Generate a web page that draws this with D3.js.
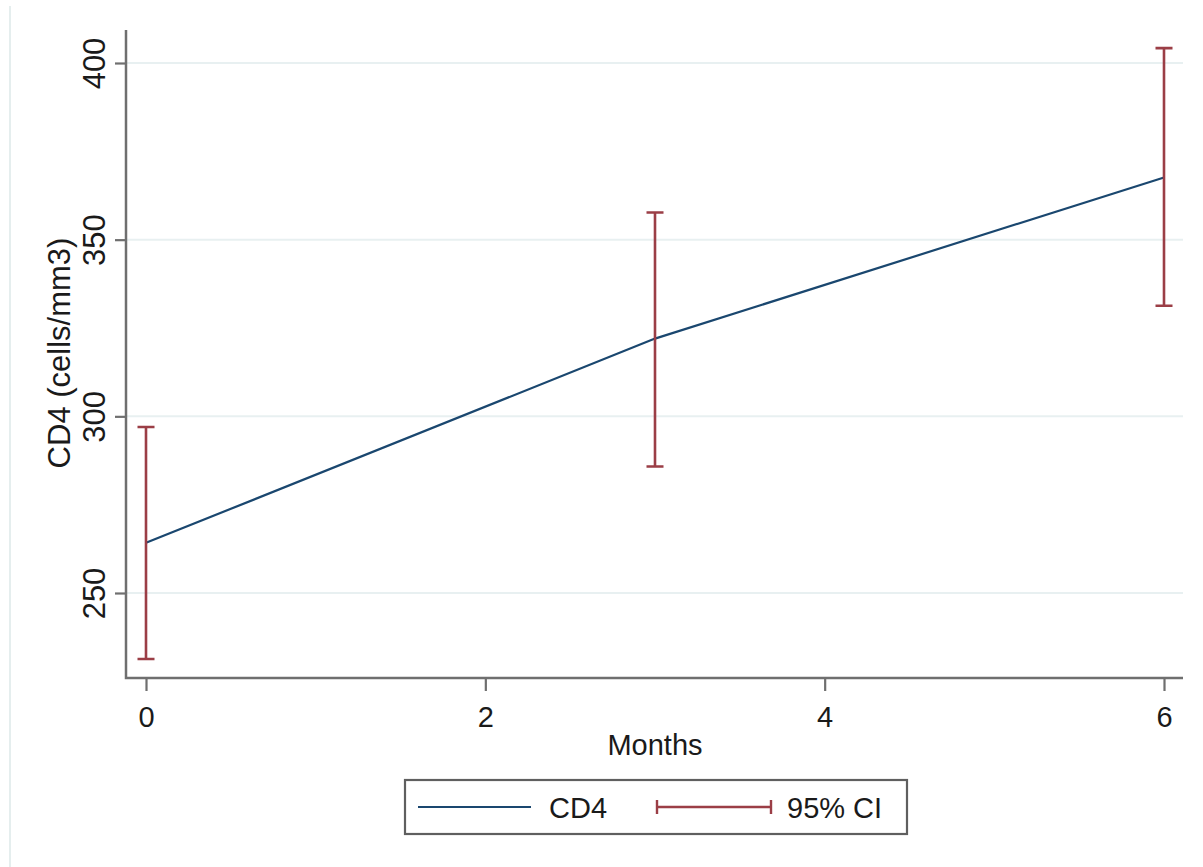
<!DOCTYPE html>
<html>
<head>
<meta charset="utf-8">
<script src="https://cdn.jsdelivr.net/npm/d3@7"></script>
<style>
  html, body { margin: 0; padding: 0; background: #ffffff; }
  svg { display: block; }
  text { font-family: "Liberation Sans", Arial, Helvetica, sans-serif; fill: #1a1a1a; }
</style>
</head>
<body>
<svg id="chart" width="1203" height="867"></svg>
<script>
// Mean CD4 count over follow-up with 95% confidence intervals
const months   = [0, 3, 6];
const cd4Mean  = [264.2, 322.0, 367.6];
const ciLower  = [231.3, 285.8, 331.3];
const ciUpper  = [297.0, 357.7, 404.2];
const xTickValues = [0, 2, 4, 6];
const yTickValues = [250, 300, 350, 400];

const svg = d3.select("#chart");

// plot region (frame of the axes)
const frame = { left: 126, right: 1183, top: 30, bottom: 678 };

const x = d3.scaleLinear().domain([0, 6]).range([146, 1164]);
const y = d3.scaleLinear().domain([250, 400]).range([593, 63]);

const blue = "#1a476f";
const maroon = "#9b3e46";
const axisGray = "#6f6f6f";

// faint outer graph border
svg.append("line")
  .attr("x1", 10).attr("x2", 10).attr("y1", 6).attr("y2", 867)
  .attr("stroke", "#e5eeee").attr("stroke-width", 2);

// horizontal grid lines
svg.append("g").selectAll("line")
  .data(yTickValues)
  .join("line")
  .attr("x1", frame.left).attr("x2", frame.right)
  .attr("y1", d => y(d)).attr("y2", d => y(d))
  .attr("stroke", "#e8f0f1").attr("stroke-width", 2);

// y axis
const yAxis = svg.append("g")
  .attr("transform", `translate(${frame.left},0)`)
  .call(d3.axisLeft(y).tickValues(yTickValues).tickSize(11).tickPadding(0).tickFormat(d3.format("d")));
yAxis.select(".domain").remove();
yAxis.selectAll(".tick line").attr("stroke", axisGray).attr("stroke-width", 2.2);
yAxis.selectAll(".tick text")
  .attr("x", null).attr("dy", null)
  .attr("transform", "translate(-21,0) rotate(-90)")
  .attr("text-anchor", "middle")
  .attr("font-size", 31)
  .style("fill", "#1a1a1a");

// x axis
const xAxis = svg.append("g")
  .attr("transform", `translate(0,${frame.bottom})`)
  .call(d3.axisBottom(x).tickValues(xTickValues).tickSize(13).tickPadding(0).tickFormat(d3.format("d")));
xAxis.select(".domain").remove();
xAxis.selectAll(".tick line").attr("stroke", axisGray).attr("stroke-width", 2.2);
xAxis.selectAll(".tick text")
  .attr("y", 49).attr("dy", null)
  .attr("font-size", 29)
  .style("fill", "#1a1a1a");

// axis lines
svg.append("path")
  .attr("d", `M${frame.left},${frame.top}V${frame.bottom}H${frame.right}`)
  .attr("fill", "none").attr("stroke", axisGray).attr("stroke-width", 2.5);

// axis titles
svg.append("text")
  .attr("transform", "translate(70,353) rotate(-90)")
  .attr("text-anchor", "middle")
  .attr("font-size", 31)
  .text("CD4 (cells/mm3)");

svg.append("text")
  .attr("x", 655).attr("y", 755)
  .attr("text-anchor", "middle")
  .attr("font-size", 29)
  .text("Months");

// mean line
const pts = months.map((m, i) => [m, cd4Mean[i]]);
svg.append("path")
  .datum(pts)
  .attr("d", d3.line().x(d => x(d[0])).y(d => y(d[1])))
  .attr("fill", "none").attr("stroke", blue).attr("stroke-width", 2.2);

// confidence interval bars
const capHalf = 8.5;
const ci = svg.append("g").attr("stroke", maroon).attr("stroke-width", 2.6).attr("fill", "none");
months.forEach((m, i) => {
  const cx = x(m);
  ci.append("path")
    .attr("d", `M${cx},${y(ciLower[i])}V${y(ciUpper[i])}` +
               `M${cx - capHalf},${y(ciUpper[i])}H${cx + capHalf}` +
               `M${cx - capHalf},${y(ciLower[i])}H${cx + capHalf}`);
});

// legend
const lg = svg.append("g");
lg.append("rect")
  .attr("x", 405).attr("y", 780).attr("width", 502).attr("height", 54)
  .attr("fill", "#ffffff").attr("stroke", "#5f5f5f").attr("stroke-width", 2.2);
lg.append("line")
  .attr("x1", 418).attr("x2", 531).attr("y1", 807).attr("y2", 807)
  .attr("stroke", blue).attr("stroke-width", 2.2);
lg.append("text")
  .attr("x", 549).attr("y", 818).attr("font-size", 29).text("CD4");
lg.append("path")
  .attr("d", "M657,807H771M657,800V814M771,800V814")
  .attr("fill", "none").attr("stroke", maroon).attr("stroke-width", 2.4);
lg.append("text")
  .attr("x", 787).attr("y", 818).attr("font-size", 29).text("95% CI");
</script>
</body>
</html>
